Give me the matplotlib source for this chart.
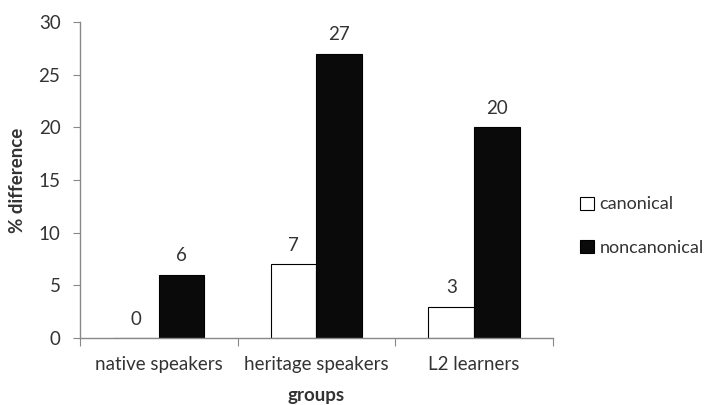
import numpy as np
import matplotlib.pyplot as plt
from matplotlib.patches import Patch

groups = ['native speakers', 'heritage speakers', 'L2 learners']
canonical = [0, 7, 3]
noncanonical = [6, 27, 20]
series_names = ['canonical', 'noncanonical']

plt.rcParams['font.family'] = ['Lato', 'DejaVu Sans']
text_color = '#333333'
axis_color = '#888888'

fig = plt.figure(figsize=(7.2, 4.05), dpi=100)
ax = fig.add_axes([0.111, 0.165, 0.657, 0.781])

x = np.arange(len(groups))
w = 0.29
b1 = ax.bar(x - w / 2, canonical, w, color='white', edgecolor='black', linewidth=0.8)
b2 = ax.bar(x + w / 2, noncanonical, w, color='#0a0a0a', edgecolor='black', linewidth=0.8)

for bars, vals in ((b1, canonical), (b2, noncanonical)):
    for rect, v in zip(bars, vals):
        ax.text(rect.get_x() + rect.get_width() / 2, v + 1.0, str(v),
                ha='center', va='bottom', fontsize=13.5, color=text_color)

ax.set_xlim(-0.5, len(groups) - 0.5)
ax.set_ylim(0, 30)
ax.set_yticks(range(0, 31, 5))
ax.set_xticks(np.arange(len(groups) + 1) - 0.5)
ax.set_xticklabels([])
ax.set_xticks(x, minor=True)
ax.set_xticklabels(groups, minor=True)
ax.tick_params(axis='x', which='minor', length=0, pad=13, labelsize=13.5, labelcolor=text_color)
ax.tick_params(axis='x', which='major', length=6, color=axis_color)
ax.tick_params(axis='y', length=5, color=axis_color, labelsize=13.5, labelcolor=text_color, pad=9)

for s in ('top', 'right'):
    ax.spines[s].set_visible(False)
for s in ('left', 'bottom'):
    ax.spines[s].set_color(axis_color)
    ax.spines[s].set_linewidth(1.0)

ax.set_ylabel('% difference', fontsize=13.5, fontweight='bold', color=text_color, labelpad=9)
ax.set_xlabel('groups', fontsize=13.5, fontweight='bold', color=text_color, labelpad=10)

handles = [Patch(facecolor='white', edgecolor='black', linewidth=0.8),
           Patch(facecolor='#0a0a0a', edgecolor='black', linewidth=0.8)]
fig.legend(handles, series_names, loc='center left', bbox_to_anchor=(0.806, 0.442),
           frameon=False, fontsize=13, labelcolor=text_color, handlelength=0.75,
           handleheight=0.75, handletextpad=0.3, labelspacing=1.5,
           borderpad=0, borderaxespad=0)

fig.savefig('out.png', dpi=100)
